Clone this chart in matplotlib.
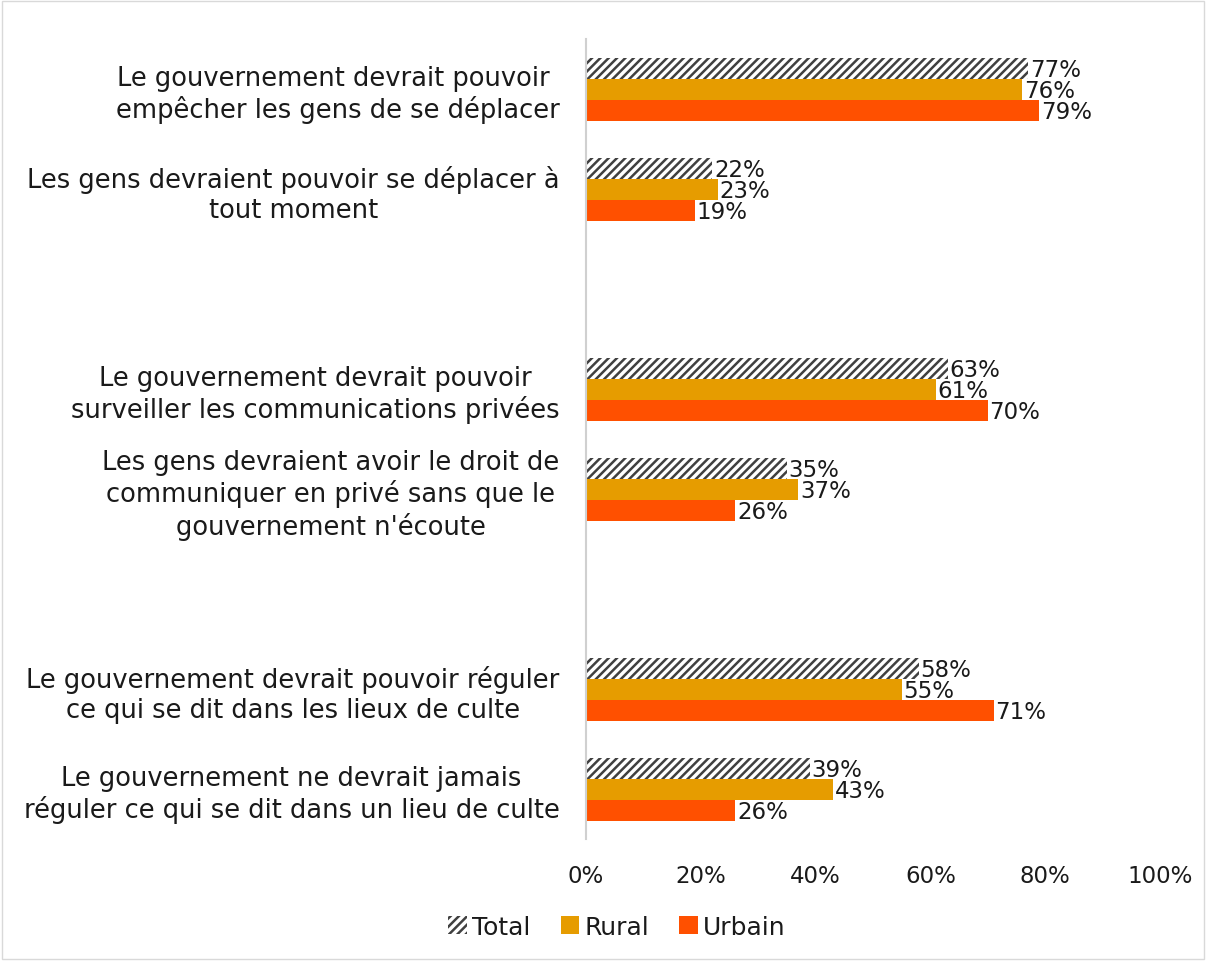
import numpy as np
import matplotlib.pyplot as plt
from matplotlib.patches import Rectangle

plt.rcParams['font.family'] = ['DejaVu Sans']
plt.rcParams['hatch.linewidth'] = 1.8

# ---------------- data ----------------
categories = [
    "Le gouvernement devrait pouvoir \nempêcher les gens de se déplacer",
    "Les gens devraient pouvoir se déplacer à\ntout moment",
    "",
    "Le gouvernement devrait pouvoir\nsurveiller les communications privées",
    "Les gens devraient avoir le droit de\ncommuniquer en privé sans que le\ngouvernement n'écoute",
    "",
    "Le gouvernement devrait pouvoir réguler\nce qui se dit dans les lieux de culte",
    "Le gouvernement ne devrait jamais\nréguler ce qui se dit dans un lieu de culte",
]
total = [77, 22, None, 63, 35, None, 58, 39]
rural = [76, 23, None, 61, 37, None, 55, 43]
urbain = [79, 19, None, 70, 26, None, 71, 26]

series = [("Total", total), ("Rural", rural), ("Urbain", urbain)]
colors = {"Total": "white", "Rural": "#E69C00", "Urbain": "#FF5000"}
txt = "#1a1a1a"
fs = 17

# ---------------- plot ----------------
fig = plt.figure(figsize=(12.06, 9.62), dpi=100)
ax = fig.add_axes([586 / 1206, 1 - 840 / 962, (1160 - 586) / 1206, 800 / 962])

y = np.arange(len(categories))
h = 0.21
for i, (name, vals) in enumerate(series):
    for j, v in enumerate(vals):
        if v is None:
            continue
        yy = y[j] + (i - 1) * h
        if name == "Total":
            ax.barh(yy, v, height=h, color="white", edgecolor="#404040",
                    hatch="////", linewidth=0)
        else:
            ax.barh(yy, v, height=h, color=colors[name], linewidth=0)
        ax.text(v + 0.3, yy + 0.02, f"{v}%", va="center", ha="left",
                fontsize=fs - 0.5, color=txt)

ax.set_xlim(0, 100)
ax.set_ylim(len(categories) - 0.5, -0.5)
ax.set_xticks([0, 20, 40, 60, 80, 100])
ax.set_xticklabels([f"{t}%" for t in [0, 20, 40, 60, 80, 100]])
ax.set_yticks(y)
ax.set_yticklabels(categories)
for lbl in ax.get_yticklabels():
    lbl.set_multialignment("center")
    lbl.set_linespacing(1.2)
ax.tick_params(axis="y", length=0, pad=19, labelsize=18.5, labelcolor=txt)
ax.tick_params(axis="x", length=0, pad=18, labelsize=16.5, labelcolor=txt)
for s in ["top", "right", "bottom"]:
    ax.spines[s].set_visible(False)
ax.spines["left"].set_color("#d0d0d0")
ax.spines["left"].set_linewidth(1.5)

handles = [
    Rectangle((0, 0), 1, 1, facecolor="white", edgecolor="#404040", hatch="////", linewidth=0),
    Rectangle((0, 0), 1, 1, facecolor=colors["Rural"], linewidth=0),
    Rectangle((0, 0), 1, 1, facecolor=colors["Urbain"], linewidth=0),
]
fig.legend(handles, ["Total", "Rural", "Urbain"], loc="center",
           bbox_to_anchor=(617 / 1206, 1 - 928 / 962), ncol=3, frameon=False,
           fontsize=18, handlelength=0.75, handleheight=0.75, handletextpad=0.2,
           columnspacing=1.2, labelcolor=txt)

fig.patches.append(Rectangle((0.002, 0.002), 0.996, 0.996, transform=fig.transFigure,
                             fill=False, edgecolor="#d9d9d9", linewidth=1))

fig.savefig("out.png", dpi=100)
